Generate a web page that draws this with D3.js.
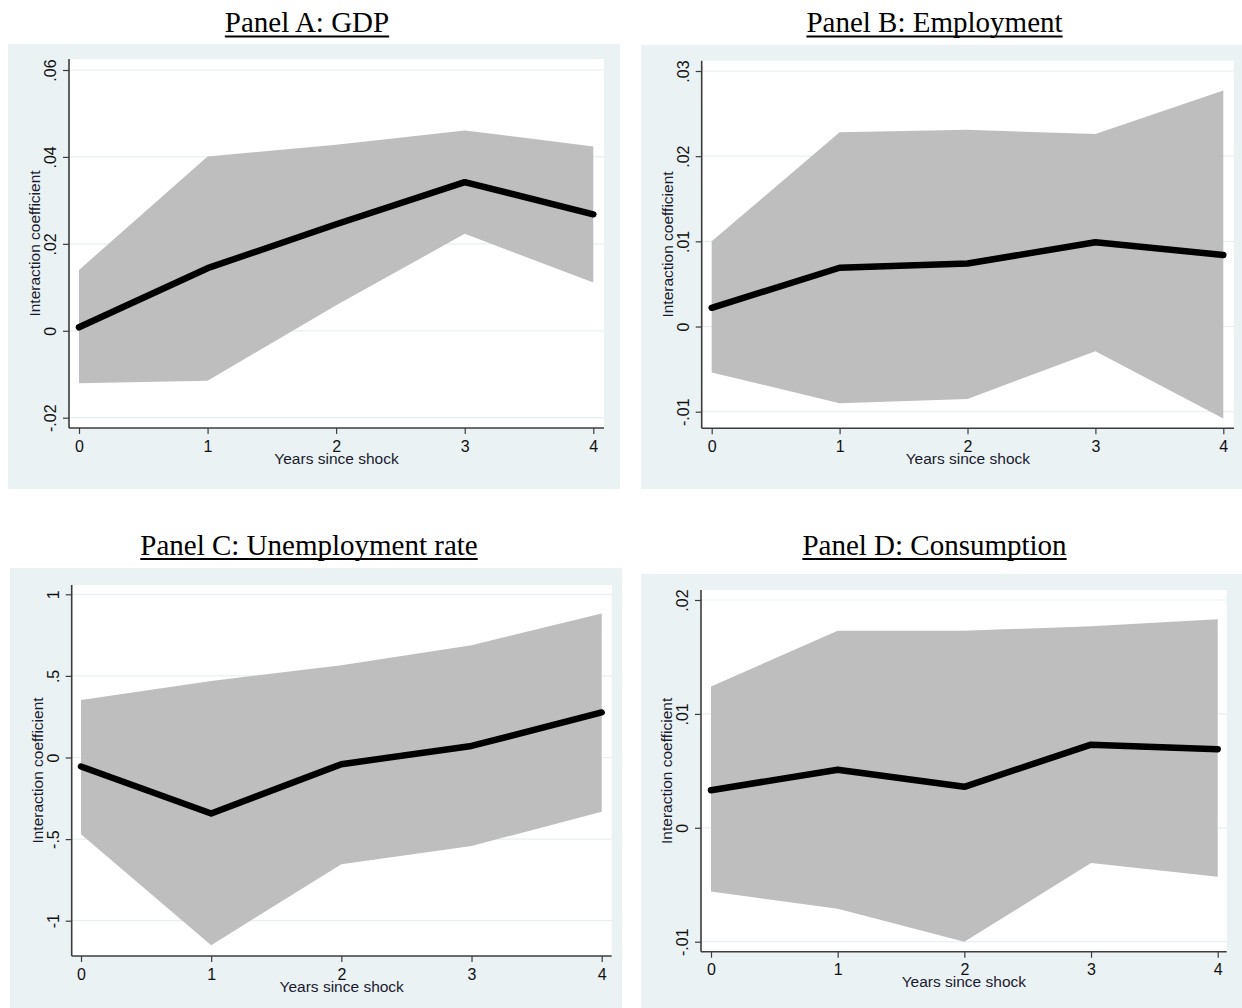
<!DOCTYPE html>
<html>
<head>
<meta charset="utf-8">
<script src="https://cdn.jsdelivr.net/npm/d3@7"></script>
<style>
  body { margin: 0; background: #fff; }
  svg { display: block; }
</style>
</head>
<body>
<svg width="1242" height="1008"></svg>
<script>
// data
const years = [0, 1, 2, 3, 4];

const gdpEst = [0.0008, 0.0144, 0.0245, 0.0342, 0.0268];
const gdpLo  = [-0.0121, -0.0115, 0.0059, 0.0223, 0.0111];
const gdpHi  = [0.0140, 0.0401, 0.0428, 0.0461, 0.0424];

const empEst = [0.0022, 0.0069, 0.0074, 0.0099, 0.0084];
const empLo  = [-0.0054, -0.0090, -0.0085, -0.0029, -0.0108];
const empHi  = [0.0100, 0.0228, 0.0231, 0.0226, 0.0277];

const unEst = [-0.055, -0.343, -0.041, 0.071, 0.276];
const unLo  = [-0.470, -1.150, -0.654, -0.542, -0.333];
const unHi  = [0.353, 0.469, 0.566, 0.688, 0.882];

const conEst = [0.0033, 0.0051, 0.0036, 0.0073, 0.0069];
const conLo  = [-0.0056, -0.0071, -0.0100, -0.0031, -0.0043];
const conHi  = [0.0124, 0.0173, 0.0173, 0.0177, 0.0183];

const gdpTicks = [-0.02, 0, 0.02, 0.04, 0.06];
const gdpLabels = ["-.02", "0", ".02", ".04", ".06"];
const empTicks = [-0.01, 0, 0.01, 0.02, 0.03];
const empLabels = ["-.01", "0", ".01", ".02", ".03"];
const unTicks = [-1, -0.5, 0, 0.5, 1];
const unLabels = ["-1", "-.5", "0", ".5", "1"];
const conTicks = [-0.01, 0, 0.01, 0.02];
const conLabels = ["-.01", "0", ".01", ".02"];

const titles = ["Panel A: GDP", "Panel B: Employment", "Panel C: Unemployment rate", "Panel D: Consumption"];
const xTitle = "Years since shock";
const yTitle = "Interaction coefficient";

// layout (pixels)
const panels = [
  { title: titles[0], est: gdpEst, lo: gdpLo, hi: gdpHi, ticks: gdpTicks, labels: gdpLabels,
    bg: [8, 44, 620, 489], plot: [69, 59, 604, 428], xr: [79, 593.3], yr: [417.7, 70], titleY: 32 },
  { title: titles[1], est: empEst, lo: empLo, hi: empHi, ticks: empTicks, labels: empLabels,
    bg: [641, 45, 1242, 489], plot: [701.7, 60.7, 1234, 428.3], xr: [711.7, 1223.3], yr: [411.7, 71], titleY: 32 },
  { title: titles[2], est: unEst, lo: unLo, hi: unHi, ticks: unTicks, labels: unLabels,
    bg: [10, 568, 622, 1008], plot: [71.7, 585, 611.7, 956], xr: [81, 601.7], yr: [920.7, 594.3], titleY: 554.5 },
  { title: titles[3], est: conEst, lo: conLo, hi: conHi, ticks: conTicks, labels: conLabels,
    bg: [641, 574, 1242, 1008], plot: [701, 590, 1226.7, 951.7], xr: [711, 1217.7], yr: [941.7, 600], titleY: 554.5 }
];

const svg = d3.select("svg");
const sans = "'Liberation Sans', Arial, sans-serif";
const serif = "'Liberation Serif', 'Times New Roman', serif";

panels.forEach(p => {
  const g = svg.append("g");
  const [bx0, by0, bx1, by1] = p.bg;
  const [px0, py0, px1, py1] = p.plot;

  g.append("rect")
    .attr("x", bx0).attr("y", by0)
    .attr("width", bx1 - bx0).attr("height", by1 - by0)
    .attr("fill", "#eaf2f3");

  g.append("rect")
    .attr("x", px0).attr("y", py0)
    .attr("width", px1 - px0).attr("height", py1 - py0)
    .attr("fill", "#fff");

  const x = d3.scaleLinear().domain([years[0], years[years.length - 1]]).range(p.xr);
  const y = d3.scaleLinear().domain([p.ticks[0], p.ticks[p.ticks.length - 1]]).range(p.yr);

  // gridlines
  g.append("g")
    .selectAll("line")
    .data(p.ticks)
    .join("line")
    .attr("x1", px0).attr("x2", px1)
    .attr("y1", d => y(d)).attr("y2", d => y(d))
    .attr("stroke", "#e6eff1")
    .attr("stroke-width", 1.2);

  const rows = years.map((yr, i) => ({ yr, est: p.est[i], lo: p.lo[i], hi: p.hi[i] }));

  g.append("path")
    .datum(rows)
    .attr("d", d3.area().x(d => x(d.yr)).y0(d => y(d.lo)).y1(d => y(d.hi)))
    .attr("fill", "#bebebe");

  g.append("path")
    .datum(rows)
    .attr("d", d3.line().x(d => x(d.yr)).y(d => y(d.est)))
    .attr("fill", "none")
    .attr("stroke", "#000")
    .attr("stroke-width", 6.5)
    .attr("stroke-linejoin", "round")
    .attr("stroke-linecap", "round");

  // y axis
  const yAxis = g.append("g")
    .attr("transform", `translate(${px0},0)`)
    .call(d3.axisLeft(y).tickValues(p.ticks).tickSize(6).tickFormat((d, i) => p.labels[i]));
  yAxis.select(".domain").attr("d", `M0,${py0}V${py1}`).attr("stroke", "#3c3c3c").attr("stroke-width", 1.6);
  yAxis.selectAll(".tick line").attr("stroke", "#3c3c3c").attr("stroke-width", 1.2);
  yAxis.selectAll(".tick text")
    .attr("x", null).attr("dy", null)
    .attr("transform", "translate(-13,0) rotate(-90)")
    .attr("text-anchor", "middle")
    .attr("font-family", sans).attr("font-size", 16).attr("fill", "#111");

  // x axis
  const xAxis = g.append("g")
    .attr("transform", `translate(0,${py1})`)
    .call(d3.axisBottom(x).tickValues(years).tickSize(6).tickFormat(d3.format("d")));
  xAxis.select(".domain").attr("d", `M${px0},0H${px1}`).attr("stroke", "#3c3c3c").attr("stroke-width", 1.6);
  xAxis.selectAll(".tick line").attr("stroke", "#3c3c3c").attr("stroke-width", 1.2);
  xAxis.selectAll(".tick text")
    .attr("y", 23.5).attr("dy", null)
    .attr("font-family", sans).attr("font-size", 16).attr("fill", "#111");

  // axis titles
  g.append("text")
    .attr("x", (px0 + px1) / 2).attr("y", py1 + 35.5)
    .attr("text-anchor", "middle")
    .attr("font-family", sans).attr("font-size", 15.5).attr("fill", "#1a1a2e")
    .text(xTitle);

  g.append("text")
    .attr("transform", `translate(${px0 - 29},${(py0 + py1) / 2}) rotate(-90)`)
    .attr("text-anchor", "middle")
    .attr("font-family", sans).attr("font-size", 15.5).attr("fill", "#1a1a2e")
    .text(yTitle);

  // panel title, underlined
  const cx = (bx0 + bx1) / 2 - 7;
  const t = svg.append("text")
    .attr("x", cx).attr("y", p.titleY)
    .attr("text-anchor", "middle")
    .attr("font-family", serif).attr("font-size", 29).attr("fill", "#000")
    .text(p.title);
  const w = t.node().getComputedTextLength();
  svg.append("line")
    .attr("x1", cx - w / 2).attr("x2", cx + w / 2)
    .attr("y1", p.titleY + 4.5).attr("y2", p.titleY + 4.5)
    .attr("stroke", "#000").attr("stroke-width", 1.8);
});
</script>
</body>
</html>
